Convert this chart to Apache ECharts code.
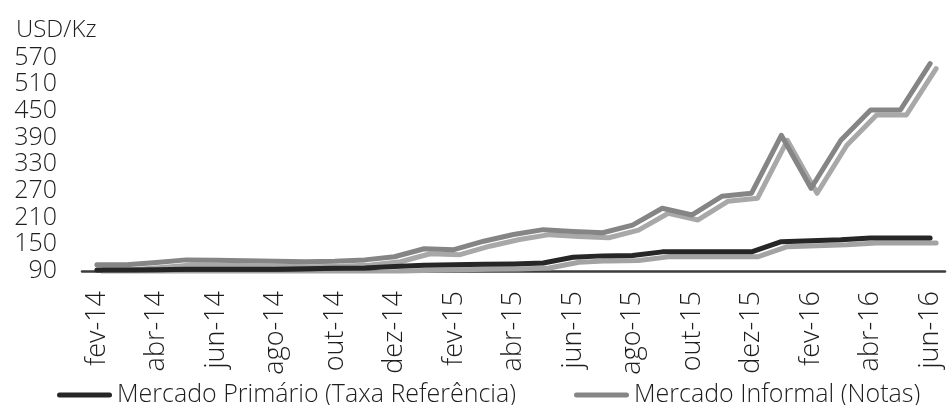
<!DOCTYPE html>
<html>
<head>
<meta charset="utf-8">
<script src="https://cdn.jsdelivr.net/npm/echarts@6/dist/echarts.min.js"></script>
<style>
  html, body { margin: 0; padding: 0; background: #fff; }
  #chart { width: 949px; height: 405px; }
</style>
</head>
<body>
<div id="chart"></div>
<script>
// Monthly USD/Kz exchange rates, Feb 2014 – Jun 2016
const months = [
  'fev-14','mar-14','abr-14','mai-14','jun-14','jul-14','ago-14','set-14','out-14','nov-14','dez-14',
  'jan-15','fev-15','mar-15','abr-15','mai-15','jun-15','jul-15','ago-15','set-15','out-15','nov-15','dez-15',
  'jan-16','fev-16','mar-16','abr-16','mai-16','jun-16'
];
const primario = [
  92, 92, 93, 94, 94, 94, 94, 95, 96, 97, 100,
  103, 104, 105, 106, 108, 121, 124, 125, 133, 133, 133, 133,
  156, 158, 160, 164, 164, 164
];
const informal = [
  104, 104, 109, 115, 114, 113, 112, 111, 112, 115, 122,
  140, 138, 157, 172, 183, 179, 176, 193, 231, 216, 258, 265,
  395, 276, 384, 452, 452, 556
];
const seriesNames = ['Mercado Primário (Taxa Referência)', 'Mercado Informal (Notas)'];
const yTicks = { min: 90, max: 570, step: 60 };

const FONT = '"Open Sans", "Liberation Sans", sans-serif';
const TEXT = '#1e1e1e';
const legendIcon = 'path://M2.5,0 L52.5,0 A2.5,2.5 0 0 1 52.5,5 L2.5,5 A2.5,2.5 0 0 1 2.5,0 Z';

const chart = echarts.init(document.getElementById('chart'), null, { renderer: 'canvas' });
chart.setOption({
  animation: false,
  backgroundColor: '#fff',
  title: {
    text: 'USD/Kz',
    left: 11,
    top: 13,
    textStyle: { fontFamily: FONT, fontWeight: 300, fontSize: 24, color: TEXT }
  },
  grid: { left: 82, right: 4, top: 57.5, bottom: 134, containLabel: false },
  legend: {
    left: 52,
    top: 376,
    itemGap: 58,
    itemWidth: 55,
    itemHeight: 5,
    textStyle: { fontFamily: FONT, fontWeight: 300, fontSize: 25, color: TEXT, lineHeight: 28 },
    itemStyle: { shadowBlur: 0, shadowOffsetX: 0, shadowOffsetY: 0, shadowColor: 'transparent' },
    data: [
      { name: seriesNames[0], icon: legendIcon },
      { name: seriesNames[1], icon: legendIcon }
    ]
  },
  xAxis: {
    type: 'category',
    data: months,
    boundaryGap: true,
    axisLine: { show: true, lineStyle: { color: '#3c3c3c', width: 2.5 } },
    axisTick: { show: false },
    splitLine: { show: false },
    axisLabel: {
      interval: 1,
      rotate: 90,
      margin: 20,
      fontFamily: FONT,
      fontWeight: 300,
      fontSize: 27,
      color: TEXT
    }
  },
  yAxis: {
    type: 'value',
    min: yTicks.min,
    max: yTicks.max,
    interval: yTicks.step,
    axisLine: { show: false },
    axisTick: { show: false },
    splitLine: { show: false },
    axisLabel: {
      margin: 25,
      fontFamily: FONT,
      fontWeight: 300,
      fontSize: 25,
      color: TEXT
    }
  },
  series: [
    {
      name: seriesNames[1],
      type: 'line',
      data: informal,
      z: 2,
      showSymbol: false,
      symbol: 'none',
      color: '#858585',
      lineStyle: {
        color: '#858585',
        width: 5,
        cap: 'round',
        join: 'round',
        shadowColor: '#a8a8a8',
        shadowBlur: 0,
        shadowOffsetX: 6,
        shadowOffsetY: 5
      }
    },
    {
      name: seriesNames[0],
      type: 'line',
      data: primario,
      z: 3,
      showSymbol: false,
      symbol: 'none',
      color: '#262626',
      lineStyle: {
        color: '#262626',
        width: 5,
        cap: 'round',
        join: 'round',
        shadowColor: '#a3a3a3',
        shadowBlur: 0,
        shadowOffsetX: 6,
        shadowOffsetY: 5
      }
    }
  ]
});
</script>
</body>
</html>
